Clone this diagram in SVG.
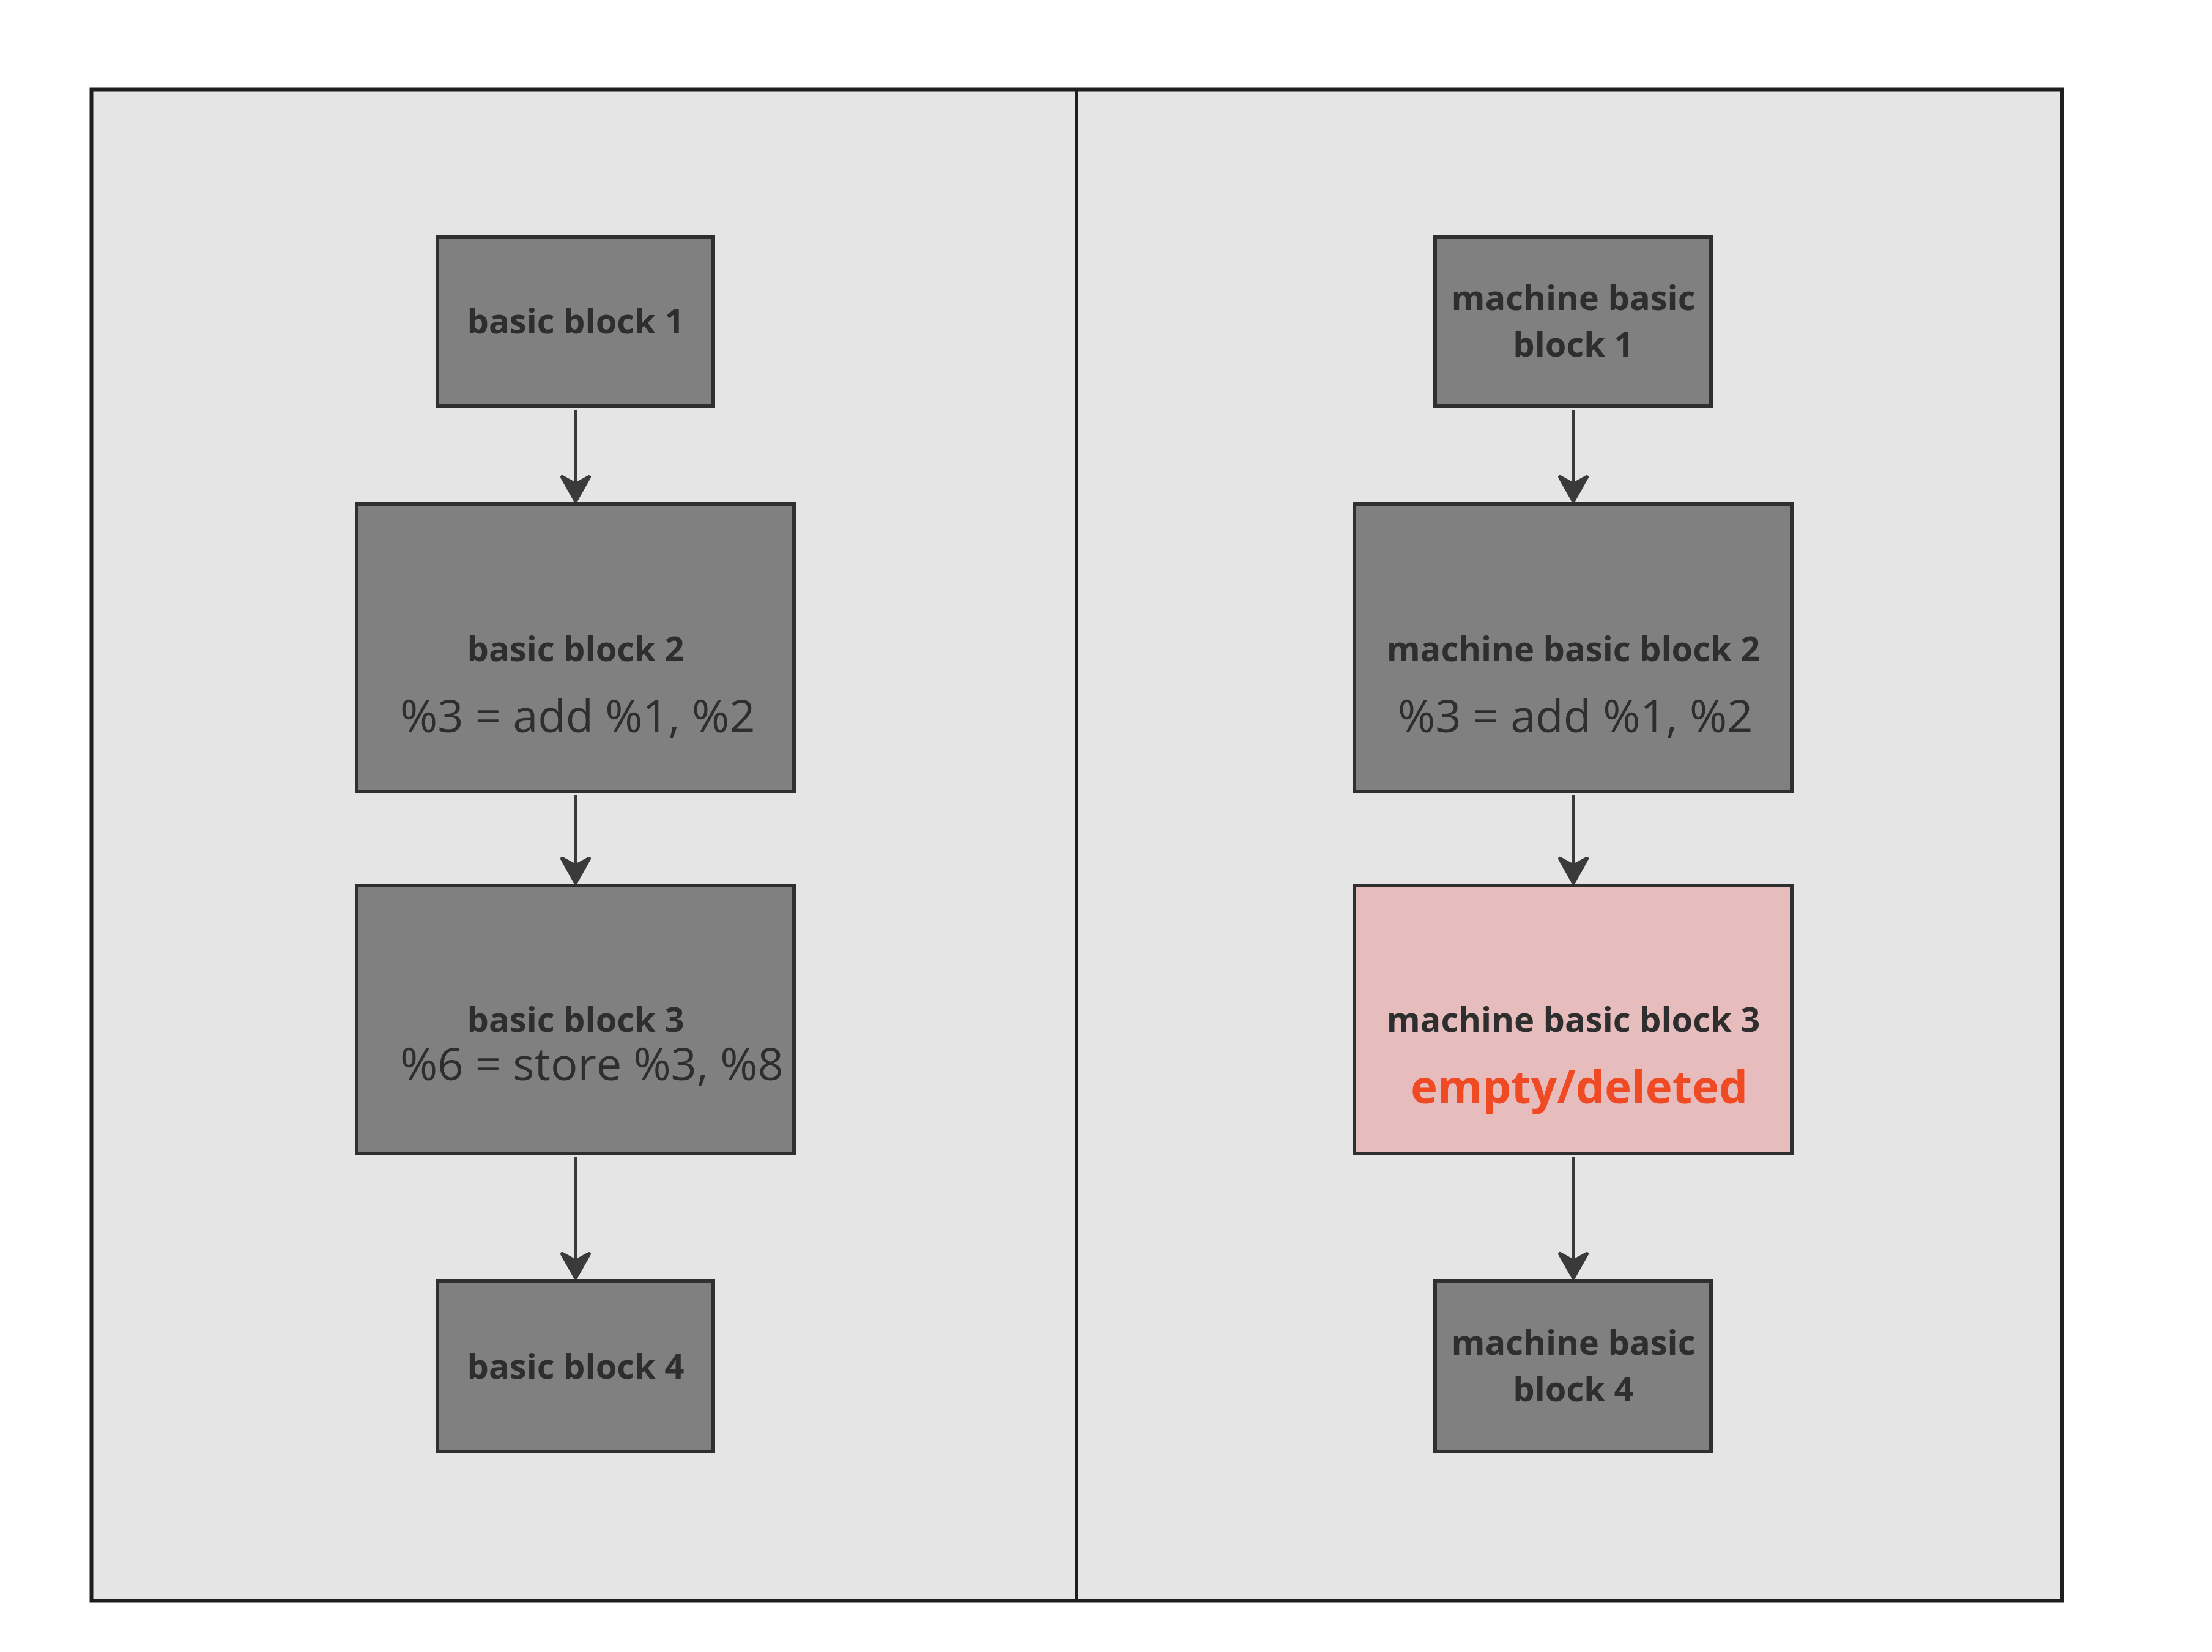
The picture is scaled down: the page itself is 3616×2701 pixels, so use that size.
<svg xmlns="http://www.w3.org/2000/svg" width="3616" height="2701" viewBox="0 0 3616 2701">
<style>
.frame{fill:#e5e5e5;stroke:#1e1e1e;stroke-width:6}
.div{stroke:#1e1e1e;stroke-width:4}
.box{fill:#808080;stroke:#2f2f2f;stroke-width:6}
.del{fill:#e6bcbc;stroke:#2f2f2f;stroke-width:6}
.lbl{font-family:"Open Sans","Noto Sans","Liberation Sans",sans-serif;font-weight:700;font-size:56px;fill:#2e2e2e}
.code{font-family:"Open Sans","Noto Sans","Liberation Sans",sans-serif;font-weight:400;font-size:74px;fill:#2e2e2e}
.red{font-family:"Open Sans","Noto Sans","Liberation Sans",sans-serif;font-weight:700;font-size:74.5px;fill:#f04a24}
.edge{stroke:#3a3a3a;stroke-width:6;fill:none}
</style>
<defs>
<marker id="ah" markerUnits="userSpaceOnUse" markerWidth="70" markerHeight="70" refX="0" refY="0" viewBox="-50 -35 56 70" orient="auto">
<path d="M0,0 L-39,-22 L-27,0 L-39,22 Z" fill="#3a3a3a" stroke="#3a3a3a" stroke-width="6" stroke-linejoin="round"/>
</marker>
</defs>
<rect class="frame" x="149.5" y="146.5" width="3221.5" height="2471"/>
<line class="div" x1="1760" y1="146.5" x2="1760" y2="2617.5"/>

<g id="connectors">
<line class="edge" x1="941" y1="670" x2="941" y2="819" marker-end="url(#ah)"/>
<line class="edge" x1="941" y1="1300" x2="941" y2="1443" marker-end="url(#ah)"/>
<line class="edge" x1="941" y1="1892" x2="941" y2="2089" marker-end="url(#ah)"/>
<line class="edge" x1="2572" y1="670" x2="2572" y2="819" marker-end="url(#ah)"/>
<line class="edge" x1="2572" y1="1300" x2="2572" y2="1443" marker-end="url(#ah)"/>
<line class="edge" x1="2572" y1="1892" x2="2572" y2="2089" marker-end="url(#ah)"/>
</g>

<g id="bb1">
<rect class="box" x="715" y="387" width="451" height="277"/>
<text class="lbl" x="941" y="545" text-anchor="middle">basic block 1</text>
</g>
<g id="bb2">
<rect class="box" x="583" y="824" width="715" height="470"/>
<text class="lbl" x="941" y="1081" text-anchor="middle">basic block 2</text>
<text class="code" x="654" y="1197">%3 = add %1, %2</text>
</g>
<g id="bb3">
<rect class="box" x="583" y="1448" width="715" height="438"/>
<text class="lbl" x="941" y="1687" text-anchor="middle">basic block 3</text>
<text class="code" x="654" y="1766">%6 = store %3, %8</text>
</g>
<g id="bb4">
<rect class="box" x="715" y="2094" width="451" height="279"/>
<text class="lbl" x="941" y="2254" text-anchor="middle">basic block 4</text>
</g>

<g id="mbb1">
<rect class="box" x="2346" y="387" width="451" height="277"/>
<text class="lbl" x="2572" y="507" text-anchor="middle">machine basic</text>
<text class="lbl" x="2572" y="583" text-anchor="middle">block 1</text>
</g>
<g id="mbb2">
<rect class="box" x="2214" y="824" width="715" height="470"/>
<text class="lbl" x="2572" y="1081" text-anchor="middle">machine basic block 2</text>
<text class="code" x="2285" y="1197">%3 = add %1, %2</text>
</g>
<g id="mbb3">
<rect class="del" x="2214" y="1448" width="715" height="438"/>
<text class="lbl" x="2572" y="1687" text-anchor="middle">machine basic block 3</text>
<text class="red" x="2306" y="1804">empty/deleted</text>
</g>
<g id="mbb4">
<rect class="box" x="2346" y="2094" width="451" height="279"/>
<text class="lbl" x="2572" y="2215" text-anchor="middle">machine basic</text>
<text class="lbl" x="2572" y="2291" text-anchor="middle">block 4</text>
</g>
</svg>
